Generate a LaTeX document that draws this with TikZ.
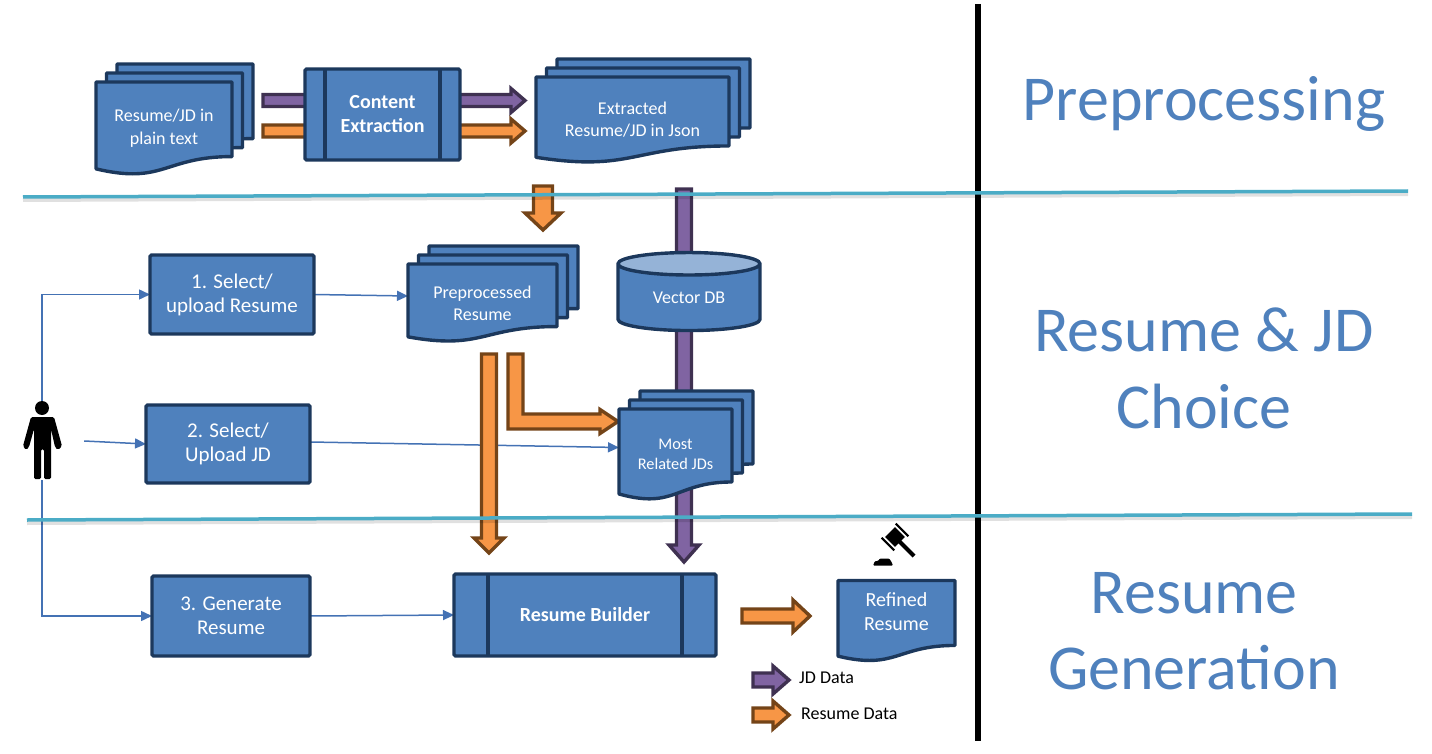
\documentclass[tikz,border=0pt]{standalone}
\usepackage{fontspec}
\setmainfont{Carlito}
\usetikzlibrary{arrows.meta,calc,positioning,shapes.geometric,shadows}
\definecolor{boxblue}{RGB}{79,129,189}
\definecolor{boxline}{RGB}{28,56,92}
\definecolor{boxtop}{RGB}{149,179,215}
\definecolor{wire}{RGB}{68,114,180}
\definecolor{teal}{RGB}{75,172,198}
\definecolor{jdfill}{RGB}{128,100,162}
\definecolor{jdline}{RGB}{63,49,81}
\definecolor{resfill}{RGB}{247,150,70}
\definecolor{resline}{RGB}{116,68,24}
\pgfdeclarelayer{wires}
\pgfdeclarelayer{flows}
\pgfsetlayers{wires,flows,main}
\makeatletter
\pgfdeclareshape{docpage}{
  \inheritsavedanchors[from=rectangle]
  \inheritanchorborder[from=rectangle]
  \inheritanchor[from=rectangle]{center}
  \inheritanchor[from=rectangle]{text}
  \inheritanchor[from=rectangle]{base}
  \inheritanchor[from=rectangle]{mid}
  \inheritanchor[from=rectangle]{north}
  \inheritanchor[from=rectangle]{south}
  \inheritanchor[from=rectangle]{east}
  \inheritanchor[from=rectangle]{west}
  \backgroundpath{
    \southwest \edef\dpl{\the\pgf@x}\edef\dpb{\the\pgf@y}
    \northeast \edef\dpr{\the\pgf@x}\edef\dpt{\the\pgf@y}
    \pgf@xa=\dpl \advance\pgf@xa by \dpr \divide\pgf@xa by 2 \edef\dpm{\the\pgf@xa}
    \pgf@ya=\dpt \advance\pgf@ya by -\dpb \edef\dph{\the\pgf@ya}
    \pgf@yb=\dph
    \pgf@ya=\dpt \advance\pgf@ya by -0.802\pgf@yb \edef\dpp{\the\pgf@ya}
    \pgf@ya=\dpt \advance\pgf@ya by -1.107\pgf@yb \edef\dpq{\the\pgf@ya}
    \pgf@ya=\dpt \advance\pgf@ya by -0.934\pgf@yb \edef\dps{\the\pgf@ya}
    \pgfpathmoveto{\pgfpoint{\dpl}{\dpt}}
    \pgfpathlineto{\pgfpoint{\dpr}{\dpt}}
    \pgfpathlineto{\pgfpoint{\dpr}{\dpp}}
    \pgfpathcurveto{\pgfpoint{\dpm}{\dpp}}{\pgfpoint{\dpm}{\dpq}}{\pgfpoint{\dpl}{\dps}}
    \pgfpathclose
  }
}
\makeatother
\tikzset{
  page/.style={docpage, draw=boxline, fill=boxblue, line width=3.4pt, line join=round,
               text=white, align=center, inner sep=0pt, outer sep=0pt},
  stack/.style={page, double copy shadow={shadow xshift=10.5pt, shadow yshift=9pt,
               fill=boxblue, draw=boxline, line width=3.4pt}},
  stepbox/.style={rectangle, draw=boxline, fill=boxblue, line width=3.4pt, rounded corners=1.5pt,
               text=white, align=center, inner sep=0pt, outer sep=0pt,
               font=\fontsize{21}{24}\selectfont},
  procbox/.style={stepbox, font=\bfseries\fontsize{20}{24}\selectfont,
               path picture={
                 \draw[boxline, line width=3.4pt]
                   ([xshift=#1]path picture bounding box.north west) -- ([xshift=#1]path picture bounding box.south west)
                   ([xshift=-#1]path picture bounding box.north east) -- ([xshift=-#1]path picture bounding box.south east);}},
  wireline/.style={wire, line width=1.5pt, -{Triangle[length=11pt,width=10pt]}},
  jdflow/.style={draw=jdline, fill=jdfill, line width=3.4pt, miter limit=10},
  resflow/.style={draw=resline, fill=resfill, line width=3.4pt, miter limit=10},
  divider/.style={teal, line width=3.5pt},
  dropshade/.style={black, opacity=0.12, line width=4pt},
  phase/.style={text=boxblue, font=\fontsize{64}{64}\selectfont, inner sep=0pt},
  legendtext/.style={text=black, font=\fontsize{18}{20}\selectfont, anchor=west, inner sep=0pt},
}
% block arrow: style, from, to, half shaft, half head, head length
\newcommand{\blockarrow}[6]{
  \coordinate (headbase) at ($(#3)!#6!(#2)$);
  \draw[#1] ($(#2)!#4!90:(#3)$) -- ($(headbase)!#4!90:(#3)$) -- ($(headbase)!#5!90:(#3)$)
    -- (#3) -- ($(headbase)!#5!-90:(#3)$) -- ($(headbase)!#4!-90:(#3)$)
    -- ($(#2)!#4!-90:(#3)$) -- cycle;
}
\begin{document}
\begin{tikzpicture}[x=1pt,y=-1pt]
    \useasboundingbox (0,0) rectangle (1432,754);

    %preprocessing
    \node (plain) [stack, minimum width=136pt, minimum height=93pt, font=\fontsize{18}{23}\selectfont] at (164,128.5) {Resume/JD in\\plain text};
    \node (extract) [procbox=20pt, minimum width=155pt, minimum height=91pt] at (382.5,114.5) {Content\\Extraction};
    \node (json) [stack, minimum width=193pt, minimum height=86pt, font=\fontsize{18}{22}\selectfont] at (632.5,120) {Extracted\\Resume/JD in Json};

    %choice
    \node (select) [stepbox, minimum width=164pt, minimum height=79pt] at (232,294.5) {1. Select/\\upload Resume};
    \node (upload) [stepbox, minimum width=164pt, minimum height=78pt] at (228,444) {2. Select/\\Upload JD};
    \node (prep) [stack, minimum width=149pt, minimum height=78pt, font=\fontsize{18}{22}\selectfont] at (482.5,303) {Preprocessed\\Resume};
    \node (vector) [cylinder, shape border rotate=90, shape aspect=.31, draw=boxline, line width=3.4pt,
                    minimum width=142pt, minimum height=78pt, cylinder uses custom fill,
                    cylinder body fill=boxblue, cylinder end fill=boxtop, text=white, inner sep=0pt,
                    font=\fontsize{18}{22}\selectfont] at (689,298) {Vector DB};
    \node (related) [stack, minimum width=113pt, minimum height=91pt, font=\fontsize{16.3}{20}\selectfont] at (675.5,454.5) {Most\\Related JDs};

    %generation
    \node (generate) [stepbox, minimum width=158pt, minimum height=80pt] at (231,616) {3. Generate\\Resume};
    \node (builder) [procbox=34pt, minimum width=262pt, minimum height=82pt] at (585,615) {Resume Builder};
    \node (refined) [page, minimum width=117pt, minimum height=81pt, font=\fontsize{20}{24}\selectfont] at (896.5,621)
        {\raisebox{2pt}[20pt][20pt]{\begin{tabular}{@{}c@{}}Refined\\Resume\end{tabular}}};

    %person
    \node (user) [minimum width=40pt, minimum height=78pt, inner sep=0pt] at (42,441) {};
    \fill (42,408) circle (7);
    \fill[rounded corners=1.5pt] (31,417) -- (54,417) -- (62,446) -- (58,450) -- (55,447) -- (51,429) -- (51,479)
        -- (44,479) -- (44,449) -- (41,449) -- (41,479) -- (34,479) -- (34,429) -- (29,447) -- (26,450) -- (23,446) -- cycle;

    %gavel
    \node (gavel) [minimum width=44pt, minimum height=44pt, inner sep=0pt] at (894,544) {};
    \begin{scope}[shift={(895,537)},rotate=45]
        \fill (-7,-7) rectangle (7,7);
        \fill (-11,-9) rectangle (-9,9);
        \fill (9,-9) rectangle (11,9);
        \fill (-2,5) rectangle (2,27);
    \end{scope}
    \fill[rounded corners=1pt] (873,565.5) -- (875,561) -- (878,561) -- (880,558.5) -- (889,558.5) -- (891,561) -- (893,565.5) -- cycle;

    %wires
    \begin{pgfonlayer}{wires}
        \draw[wireline] (user.north) |- (select.west);
        \draw[wireline] (select.east) -- ([yshift=7pt]prep.west);
        \draw[wireline] ([xshift=22pt]user.east) -- (upload.west);
        \draw[wireline] ([yshift=2pt]upload.east) -- ([yshift=7pt]related.west);
        \draw[wireline] (user.south) |- (generate.west);
        \draw[wireline] (generate.east) -- (builder.west);
    \end{pgfonlayer}

    %flows
    \begin{pgfonlayer}{flows}
        \coordinate (jdfrom) at (263,100.5);
        \coordinate (jdto) at (525,100.5);
        \coordinate (resfrom) at (263,131);
        \coordinate (resto) at (525,131);
        \blockarrow{jdflow}{jdfrom}{jdto}{6pt}{12pt}{14pt}
        \blockarrow{resflow}{resfrom}{resto}{6pt}{12pt}{14pt}
        \coordinate (downfrom) at (543,186);
        \coordinate (downto) at (543,230);
        \blockarrow{resflow}{downfrom}{downto}{9.5pt}{18pt}{17pt}
        \coordinate (vecfrom) at (684,189);
        \coordinate (vecto) at (684,562);
        \blockarrow{jdflow}{vecfrom}{vecto}{7.5pt}{15pt}{17pt}
        \coordinate (longfrom) at (489,354);
        \coordinate (longto) at (489,553);
        \blockarrow{resflow}{longfrom}{longto}{7.5pt}{15pt}{15pt}
        \coordinate (bendfrom) at (515.5,354);
        \coordinate (bendto) at (618,421.5);
        \draw[resflow] ($(bendfrom)+(-7.5,0)$) |- ($(bendto)+(-18,7.5)$) -- ($(bendto)+(-18,12)$) -- (bendto)
            -- ($(bendto)+(-18,-12)$) -- ($(bendto)+(-18,-7.5)$) -| ($(bendfrom)+(7.5,0)$) -- cycle;
        \coordinate (outfrom) at (742,616);
        \coordinate (outto) at (810,616);
        \blockarrow{resflow}{outfrom}{outto}{7pt}{16pt}{17pt}
        \coordinate (jdkeyfrom) at (753,680);
        \coordinate (jdkeyto) at (789,680);
        \blockarrow{jdflow}{jdkeyfrom}{jdkeyto}{7pt}{14pt}{16pt}
        \coordinate (reskeyfrom) at (753,715);
        \coordinate (reskeyto) at (789,715);
        \blockarrow{resflow}{reskeyfrom}{reskeyto}{7pt}{14pt}{16pt}
    \end{pgfonlayer}

    \node (jdkey) [legendtext] at (799,678) {JD Data};
    \node (reskey) [legendtext] at (801,714) {Resume Data};

    %dividers
    \coordinate (topleft) at (23,197);
    \coordinate (topright) at (1408,191);
    \coordinate (lowleft) at (27,520);
    \coordinate (lowright) at (1412,514);
    \coordinate (railtop) at (978,4);
    \coordinate (railend) at (978,741);
    \draw[line width=6pt] (railtop) -- (railend);
    \draw[dropshade] ([yshift=-3pt]topleft) -- ([yshift=-3pt]topright);
    \draw[dropshade] ([yshift=-3pt]lowleft) -- ([yshift=-3pt]lowright);
    \draw[divider] (topleft) -- (topright);
    \draw[divider] (lowleft) -- (lowright);

    %phases
    \node (phasea) [phase] at (1204,104) {Preprocessing};
    \node (phaseb) [phase] at (1204,330) {Resume \& JD};
    \node (phasec) [phase] at (1204,406) {Choice};
    \node (phased) [phase] at (1194,593) {Resume};
    \node (phasee) [phase] at (1194,668) {Generation};
\end{tikzpicture}
\end{document}
